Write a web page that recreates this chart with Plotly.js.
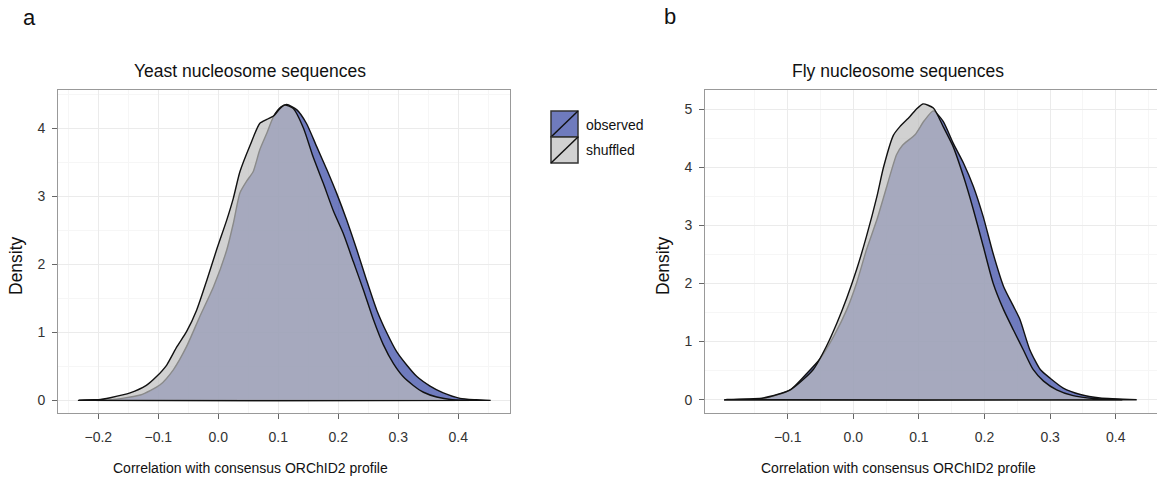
<!DOCTYPE html>
<html>
<head>
<meta charset="utf-8">
<script src="https://cdn.plot.ly/plotly-3.0.1.min.js"></script>
<style>html,body{margin:0;padding:0;background:#fff;}#chart{width:1157px;height:480px;}</style>
</head>
<body>
<div id="chart"></div>
<script>
// ---------- DATA ----------
var panelLabels = ["a", "b"];
var panelTitles = ["Yeast nucleosome sequences", "Fly nucleosome sequences"];
var xAxisTitle = "Correlation with consensus ORChID2 profile";
var yAxisTitle = "Density";
var seriesNames = ["observed", "shuffled"];

// Yeast (panel a)
var yeastObsX = [-0.233,-0.2,-0.18,-0.13,-0.097,-0.075,-0.053,-0.031,-0.008,0.014,0.025,0.036,0.047,0.058,0.069,0.081,0.092,0.104,0.114,0.131,0.147,0.164,0.181,0.197,0.214,0.231,0.247,0.264,0.281,0.297,0.314,0.331,0.353,0.375,0.403,0.43,0.454];
var yeastObsY = [0,0.005,0.01,0.08,0.23,0.45,0.79,1.23,1.67,2.21,2.6,3.05,3.22,3.36,3.68,3.93,4.17,4.31,4.35,4.27,4.07,3.73,3.39,3.05,2.65,2.21,1.77,1.33,0.99,0.72,0.52,0.35,0.21,0.11,0.03,0.01,0];
var yeastShufX = [-0.233,-0.2,-0.18,-0.147,-0.12,-0.103,-0.086,-0.069,-0.053,-0.036,-0.019,-0.003,0.014,0.025,0.036,0.053,0.069,0.081,0.092,0.103,0.111,0.125,0.142,0.158,0.175,0.192,0.208,0.225,0.242,0.258,0.275,0.292,0.308,0.325,0.342,0.364,0.39,0.43];
var yeastShufY = [0,0.01,0.04,0.11,0.22,0.35,0.52,0.79,1.01,1.33,1.77,2.21,2.65,2.97,3.36,3.75,4.07,4.13,4.18,4.29,4.34,4.29,4.0,3.58,3.19,2.78,2.46,2.04,1.62,1.2,0.82,0.54,0.35,0.22,0.12,0.05,0.01,0];

// Fly (panel b)
var flyObsX = [-0.196,-0.137,-0.096,-0.071,-0.051,-0.030,-0.010,0.005,0.020,0.036,0.051,0.066,0.075,0.094,0.108,0.122,0.137,0.152,0.168,0.183,0.198,0.213,0.229,0.244,0.254,0.269,0.285,0.300,0.320,0.346,0.376,0.432];
var flyObsY = [0,0.02,0.17,0.45,0.70,1.09,1.55,2.01,2.58,3.10,3.67,4.22,4.38,4.56,4.8,4.97,4.79,4.42,4.07,3.67,3.15,2.52,1.95,1.61,1.38,0.86,0.52,0.37,0.20,0.09,0.03,0];
var flyShufX = [-0.196,-0.137,-0.096,-0.061,-0.041,-0.025,-0.010,0.005,0.020,0.036,0.046,0.061,0.071,0.086,0.096,0.106,0.122,0.137,0.152,0.168,0.183,0.198,0.213,0.229,0.244,0.259,0.274,0.290,0.310,0.335,0.366,0.41];
var flyShufY = [0,0.03,0.17,0.52,0.92,1.32,1.75,2.24,2.81,3.5,4.0,4.55,4.70,4.87,5.0,5.09,5.02,4.70,4.36,3.84,3.27,2.64,2.01,1.55,1.20,0.86,0.52,0.32,0.17,0.07,0.02,0];

var xTickValsA = [-0.2,-0.1,0.0,0.1,0.2,0.3,0.4];
var xTickTextA = ["\u22120.2","\u22120.1","0.0","0.1","0.2","0.3","0.4"];
var xTickValsB = [-0.1,0.0,0.1,0.2,0.3,0.4];
var xTickTextB = ["\u22120.1","0.0","0.1","0.2","0.3","0.4"];
var yTickValsA = [0,1,2,3,4];
var yTickValsB = [0,1,2,3,4,5];

// ---------- STYLE / LAYOUT ----------
var W = 1157, H = 480;
function px(x){ return x / W; }
function py(y){ return 1 - y / H; }
var FONT = "Liberation Sans, Arial, Helvetica, sans-serif";
var obsFill = "rgba(55,72,165,0.72)";
var shufFill = "rgba(190,190,190,0.7)";
var legendObs = "#6f7bbd";
var legendShuf = "#d1d1d1";

function closed(xs, ys){
  // close polygon along the baseline so the outline includes the bottom edge
  return {x: xs.concat([xs[xs.length-1], xs[0]]), y: ys.concat([0, 0])};
}
function densTrace(xs, ys, fill, xa, ya, name){
  var c = closed(xs, ys);
  return {x: c.x, y: c.y, type: "scatter", mode: "lines", fill: "toself",
    fillcolor: fill, line: {color: "#111", width: 1.4, shape: "spline", smoothing: 0.6},
    xaxis: xa, yaxis: ya, name: name, showlegend: false, hoverinfo: "skip"};
}

var data = [
  densTrace(yeastObsX, yeastObsY, obsFill, "x", "y", seriesNames[0]),
  densTrace(yeastShufX, yeastShufY, shufFill, "x", "y", seriesNames[1]),
  densTrace(flyObsX, flyObsY, obsFill, "x2", "y2", seriesNames[0]),
  densTrace(flyShufX, flyShufY, shufFill, "x2", "y2", seriesNames[1])
];

function xAxis(domain, range, vals, text, anchor){
  return {domain: domain, range: range, anchor: anchor, tickmode: "array", tickvals: vals, ticktext: text,
    ticks: "outside", ticklen: 5, tickwidth: 1, tickcolor: "#666", ticklabelstandoff: 6,
    tickfont: {family: FONT, size: 14, color: "#333"},
    showgrid: true, gridcolor: "#ebebeb", gridwidth: 1, zeroline: false,
    showline: true, mirror: true, linecolor: "#999", linewidth: 1,
    minor: {tickmode: "linear", tick0: 0.05, dtick: 0.1, showgrid: true, gridcolor: "#f6f6f6", gridwidth: 1, ticks: ""},
    fixedrange: true};
}
function yAxis(domain, range, vals, anchor){
  return {domain: domain, range: range, anchor: anchor, tickmode: "array", tickvals: vals,
    ticktext: vals.map(String),
    ticks: "outside", ticklen: 5, tickwidth: 1, tickcolor: "#666", ticklabelstandoff: 4,
    tickfont: {family: FONT, size: 14, color: "#333"},
    showgrid: true, gridcolor: "#ebebeb", gridwidth: 1, zeroline: false,
    showline: true, mirror: true, linecolor: "#999", linewidth: 1,
    minor: {tickmode: "linear", tick0: 0.5, dtick: 1, showgrid: true, gridcolor: "#f6f6f6", gridwidth: 1, ticks: ""},
    fixedrange: true};
}

var yDom = [py(413), py(90)];
var layout = {
  width: W, height: H,
  margin: {l: 0, r: 0, t: 0, b: 0},
  paper_bgcolor: "#fff", plot_bgcolor: "#fff",
  showlegend: false,
  font: {family: FONT, color: "#111"},
  xaxis: xAxis([px(58), px(510)], [-0.2672, 0.4862], xTickValsA, xTickTextA, "y"),
  yaxis: yAxis(yDom, [-0.185, 4.562], yTickValsA, "x"),
  xaxis2: xAxis([px(705), 1], [-0.2261, 0.4629], xTickValsB, xTickTextB, "y2"),
  yaxis2: yAxis(yDom, [-0.229, 5.33], yTickValsB, "x2"),
  annotations: [
    {text: panelLabels[0], x: px(29), y: py(18), xref: "paper", yref: "paper", xanchor: "center", yanchor: "middle", showarrow: false, font: {family: FONT, size: 22, color: "#111"}},
    {text: panelLabels[1], x: px(670), y: py(17), xref: "paper", yref: "paper", xanchor: "center", yanchor: "middle", showarrow: false, font: {family: FONT, size: 22, color: "#111"}},
    {text: panelTitles[0], x: px(250), y: py(71), xref: "paper", yref: "paper", xanchor: "center", yanchor: "middle", showarrow: false, font: {family: FONT, size: 17.5, color: "#111"}},
    {text: panelTitles[1], x: px(898), y: py(71), xref: "paper", yref: "paper", xanchor: "center", yanchor: "middle", showarrow: false, font: {family: FONT, size: 17.5, color: "#111"}},
    {text: xAxisTitle, x: px(250), y: py(468), xref: "paper", yref: "paper", xanchor: "center", yanchor: "middle", showarrow: false, font: {family: FONT, size: 14, color: "#111"}},
    {text: xAxisTitle, x: px(898), y: py(468), xref: "paper", yref: "paper", xanchor: "center", yanchor: "middle", showarrow: false, font: {family: FONT, size: 14, color: "#111"}},
    {text: yAxisTitle, x: px(16), y: py(266), xref: "paper", yref: "paper", xanchor: "center", yanchor: "middle", textangle: -90, showarrow: false, font: {family: FONT, size: 17.5, color: "#111"}},
    {text: yAxisTitle, x: px(663), y: py(266), xref: "paper", yref: "paper", xanchor: "center", yanchor: "middle", textangle: -90, showarrow: false, font: {family: FONT, size: 17.5, color: "#111"}},
    {text: seriesNames[0], x: px(584), y: py(124.5), xref: "paper", yref: "paper", xanchor: "left", yanchor: "middle", showarrow: false, font: {family: FONT, size: 14, color: "#111"}},
    {text: seriesNames[1], x: px(584), y: py(150.5), xref: "paper", yref: "paper", xanchor: "left", yanchor: "middle", showarrow: false, font: {family: FONT, size: 14, color: "#111"}}
  ],
  shapes: [
    {type: "rect", xref: "paper", yref: "paper", x0: px(551), x1: px(578), y0: py(137), y1: py(111), fillcolor: legendObs, line: {color: "#333", width: 1.5}},
    {type: "line", xref: "paper", yref: "paper", x0: px(551), x1: px(578), y0: py(137), y1: py(111), line: {color: "#111", width: 1.5}},
    {type: "rect", xref: "paper", yref: "paper", x0: px(551), x1: px(578), y0: py(163), y1: py(137), fillcolor: legendShuf, line: {color: "#333", width: 1.5}},
    {type: "line", xref: "paper", yref: "paper", x0: px(551), x1: px(578), y0: py(163), y1: py(137), line: {color: "#111", width: 1.5}}
  ]
};

Plotly.newPlot("chart", data, layout, {staticPlot: true, displayModeBar: false});
</script>
</body>
</html>
